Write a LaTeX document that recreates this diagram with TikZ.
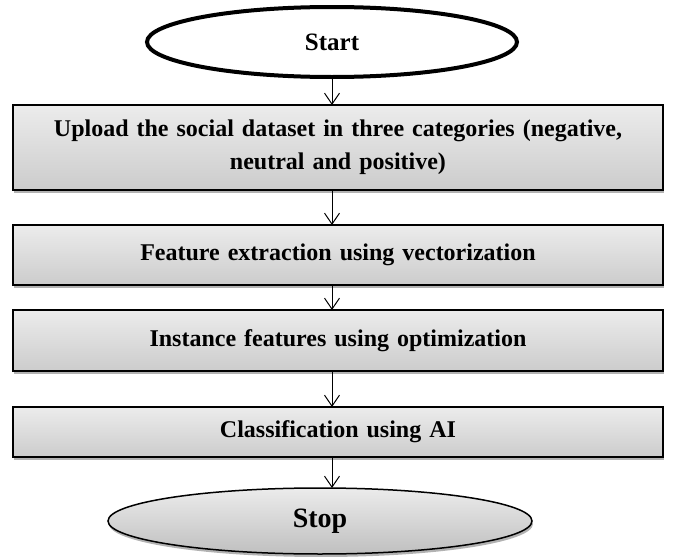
\documentclass[tikz,border=0pt]{standalone}
\usepackage{fontspec}
\setmainfont{Liberation Serif}
\usepackage{tikz}
\usetikzlibrary{positioning, shapes, arrows.meta, shadows}

\tikzset{
  startend/.style={draw, ellipse, line width=4pt, fill=white, outer sep=0pt,
    minimum width=370pt, minimum height=70pt, font=\fontsize{25}{30}\selectfont\bfseries},
  stopend/.style={draw, ellipse, line width=1.5pt, outer sep=0pt,
    top color=gray!15, bottom color=gray!50,
    drop shadow={shadow xshift=1pt, shadow yshift=-3pt, fill=gray!60, opacity=1},
    minimum width=424pt, minimum height=66pt, font=\fontsize{28}{32}\selectfont\bfseries},
  stepbox/.style={draw, rectangle, line width=1.5pt, outer sep=0pt,
    top color=gray!15, bottom color=gray!40,
    drop shadow={shadow xshift=1pt, shadow yshift=-3pt, fill=gray!60, opacity=1},
    minimum width=650pt, text width=620pt, align=center,
    font=\fontsize{24}{33}\selectfont\bfseries},
  flow/.style={-{Straight Barb[length=11pt, width=15pt]}, line width=1pt}
}

\begin{document}
\begin{tikzpicture}
  \useasboundingbox (0,0) rectangle (673pt,-557pt);

  \node (start) [startend] at (332pt,-42pt) {Start};
  \node (upload) [stepbox, below=28pt of start, xshift=6pt, minimum height=85pt]
    {Upload the social dataset in three categories (negative,\\ neutral and positive)};
  \node (extract) [stepbox, below=35pt of upload, minimum height=60pt]
    {Feature extraction using vectorization};
  \node (optim) [stepbox, below=25pt of extract, minimum height=61pt]
    {Instance features using optimization};
  \node (classify) [stepbox, below=36pt of optim, minimum height=50pt]
    {Classification using AI};
  \node (stop) [stopend, below=31pt of classify, xshift=-18pt] {Stop};

  \draw [flow] (start.south) -- (start.south |- upload.north);
  \draw [flow] (upload.south -| start.south) -- (extract.north -| start.south);
  \draw [flow] (extract.south -| start.south) -- (optim.north -| start.south);
  \draw [flow] (optim.south -| start.south) -- (classify.north -| start.south);
  \draw [flow] (classify.south -| start.south) -- (stop.north -| start.south);
\end{tikzpicture}
\end{document}
